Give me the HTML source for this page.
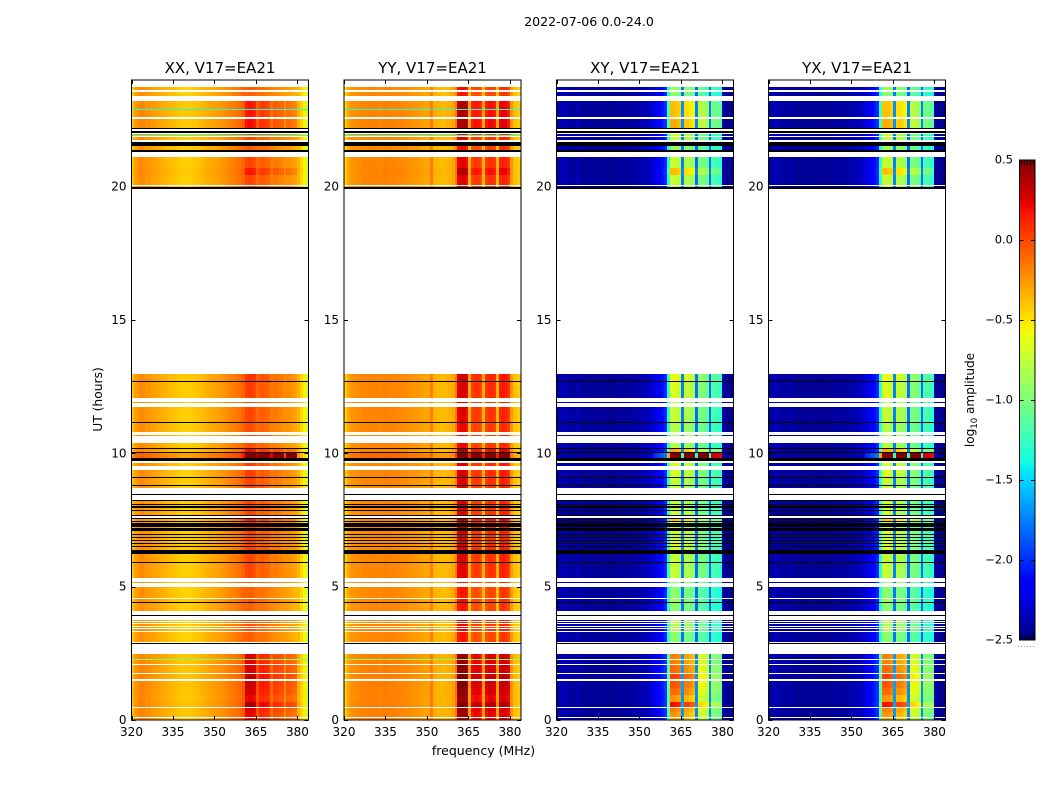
<!DOCTYPE html>
<html lang="en">
<head>
<meta charset="utf-8">
<title>2022-07-06 0.0-24.0</title>
<style>
html,body{margin:0;padding:0;background:#fff;}
svg{display:block;}
text{font-family:"DejaVu Sans","Liberation Sans",sans-serif;fill:#000;}
</style>
</head>
<body>
<svg id="chart" xmlns="http://www.w3.org/2000/svg" width="1050" height="800" viewBox="0 0 1050 800">
<rect x="0" y="0" width="1050" height="800" fill="#fff"/>
<text x="589" y="26" font-size="12.6" text-anchor="middle">2022-07-06 0.0-24.0</text>
<text x="0" y="0" font-size="12.3" text-anchor="middle" transform="translate(102,399.5) rotate(-90)">UT (hours)</text>
<text x="483.5" y="755" font-size="12.5" text-anchor="middle">frequency (MHz)</text>
<text x="0" y="0" font-size="12.1" text-anchor="middle" transform="translate(974,400) rotate(-90)">log<tspan font-size="8.5" dy="3">10</tspan><tspan dy="-3"> amplitude</tspan></text>
</svg>
<script>
const panelNames = ["XX, V17=EA21", "YY, V17=EA21", "XY, V17=EA21", "YX, V17=EA21"];
const xTickValues = [320, 335, 350, 365, 380];
const yTickValues = [0, 5, 10, 15, 20];
const colorTickValues = [-2.5, -2, -1.5, -1, -0.5, 0, 0.5];
const colorTickLabels = ["\u22122.5", "\u22122.0", "\u22121.5", "\u22121.0", "\u22120.5", "0.0", "0.5"];

const freqMHz = [320,321,322,323,324,325,326,327,328,329,330,331,332,333,334,335,336,337,338,339,340,341,342,343,344,345,346,347,348,349,350,351,352,353,354,355,356,357,358,359,360,361,362,363,364,365,366,367,368,369,370,371,372,373,374,375,376,377,378,379,380,381,382,383];

const xxBase = [-.4,-.28,-.24,-.2,-.22,-.25,-.25,-.27,-.28,-.3,-.31,-.33,-.34,-.36,-.37,-.38,-.4,-.41,-.43,-.43,-.43,-.42,-.41,-.4,-.38,-.37,-.35,-.33,-.31,-.3,-.29,-.28,-.26,-.24,-.22,-.2,-.18,-.16,-.14,-.12,-.08,0,.02,.02,-.02,-.1,-.07,-.06,-.08,-.1,-.17,-.15,-.16,-.18,-.2,-.24,-.22,-.24,-.27,-.3,-.34,-.45,-.55,-.7];
const yyBase = [-.42,-.3,-.25,-.24,-.22,-.22,-.2,-.2,-.2,-.19,-.19,-.19,-.2,-.2,-.18,-.18,-.19,-.19,-.2,-.2,-.21,-.21,-.22,-.23,-.24,-.25,-.25,-.27,-.28,-.29,-.3,-.17,-.33,-.35,-.35,-.37,-.36,-.35,-.33,-.3,-.18,.22,.25,.25,.2,-.35,.02,.06,.04,0,-.35,.04,.08,.08,.05,-.35,.12,.14,.12,.06,-.25,-.38,-.4,-.43];
const xyBase = [-2.42,-2.37,-2.35,-2.37,-2.39,-2.42,-2.42,-2.37,-2.4,-2.42,-2.45,-2.42,-2.43,-2.45,-2.42,-2.43,-2.45,-2.42,-2.43,-2.45,-2.45,-2.43,-2.42,-2.43,-2.41,-2.43,-2.42,-2.4,-2.41,-2.39,-2.37,-2.37,-2.35,-2.32,-2.29,-2.26,-2.2,-2.14,-2.08,-2.02,-1.3,-.72,-.72,-.75,-.78,-1.75,-.8,-.8,-.85,-.9,-1.8,-1,-1,-1.05,-1.1,-1.8,-1.2,-1.2,-1.25,-1.3,-2.4,-2.45,-2.45,-2.45];
const yxBase = [-2.43,-2.39,-2.37,-2.37,-2.4,-2.43,-2.42,-2.39,-2.41,-2.43,-2.45,-2.43,-2.44,-2.45,-2.43,-2.43,-2.45,-2.43,-2.44,-2.45,-2.45,-2.44,-2.43,-2.42,-2.41,-2.42,-2.42,-2.41,-2.4,-2.39,-2.37,-2.37,-2.35,-2.33,-2.29,-2.26,-2.21,-2.14,-2.09,-2.02,-1.3,-.74,-.72,-.74,-.78,-1.75,-.82,-.8,-.84,-.9,-1.8,-1,-.98,-1.05,-1.1,-1.8,-1.2,-1.18,-1.25,-1.3,-2.4,-2.45,-2.45,-2.45];

const xxResponse = [.03,.03,.03,.03,.03,.03,.03,.03,.03,.03,.03,.03,.03,.03,.03,.03,.03,.03,.03,.03,.03,.03,.03,.03,.03,.03,.03,.03,.03,.03,.03,.03,.03,.03,.03,.03,.03,.03,.03,.03,.05,.3,.3,.3,.3,.1,.22,.22,.22,.22,.08,.2,.2,.2,.2,.05,.2,.2,.2,.2,.02,.02,.02,.02];
const yyResponse = [.02,.02,.02,.02,.02,.02,.02,.02,.02,.02,.02,.02,.02,.02,.02,.02,.02,.02,.02,.02,.02,.02,.02,.02,.02,.02,.02,.02,.02,.02,.02,.02,.02,.02,.02,.02,.02,.02,.02,.02,.05,.25,.25,.25,.25,.1,.22,.22,.22,.22,.1,.22,.22,.22,.22,.1,.2,.2,.2,.2,.02,.02,.02,.02];
const crossResponse = [0,0,0,0,0,0,0,0,0,0,0,0,0,0,0,0,0,0,0,0,0,0,0,0,0,0,0,0,0,0,0,0,0,0,0,.05,.05,.05,.05,.05,.2,.7,.7,.7,.7,.1,.65,.65,.65,.65,.1,.42,.42,.42,.42,.1,.3,.3,.3,.3,0,0,0,0];

const dataStart = [0,.101,.3,.488,.686,.938,1.2,1.538,1.763,2.089,2.288,2.9125,3.35,3.4625,3.5375,3.625,3.7125,4.0875,4.425,4.575,5.15,5.325,5.925,6.3625,6.5125,6.65,6.75,6.875,6.9875,7.1875,7.375,7.45,7.7,7.875,8.0125,8.1,8.7,8.8,9.1,9.525,9.8375,10.0375,10.1875,10.65,10.8,11.175,11.8875,12.0875,12.7,19.9875,20.0625,20.4375,20.7,21.375,21.625,21.75,21.9,22.1875,22.6125,23.4,23.625];
const dataEnd = [.064,.3,.461,.686,.938,1.2,1.463,1.725,2.051,2.261,2.475,3.3125,3.425,3.5,3.5875,3.675,3.75,4.3875,4.5375,4.9875,5.175,5.9,6.225,6.475,6.6125,6.7125,6.8375,6.95,7.0875,7.225,7.425,7.5625,7.825,7.9625,8.05,8.225,8.775,9.075,9.375,9.65,10,10.1625,10.3875,10.7,11.15,11.7375,11.9375,12.675,12.975,20.025,20.4375,20.7,21.125,21.525,21.65,21.85,21.975,22.5375,23.2125,23.5625,23.75];
const dataGain = [.6,.7,.8,1.3,.7,.9,1,1.1,.9,.8,.8,-.3,-.1,-.1,-.1,-.1,0,-.3,-.2,-.3,-.2,0,0,.1,.1,.1,0,0,.1,.1,.2,.5,0,0,0,0,0,0,.1,.1,5,.6,-.1,0,-.1,0,0,.1,.2,0,0,.5,0,-.2,0,0,0,.6,.5,-.3,-.2];

const flaggedStart = [2.861,3.9125,4.3875,5.9,6.225,6.475,6.6125,6.7125,6.8375,6.95,7.0875,7.225,7.425,7.5625,7.6625,7.825,7.9625,8.05,8.225,8.45,8.775,9.075,9.7125,10,10.1625,11.15,12.675,19.925,21.2875,21.525,21.65,22.025,22.15];
const flaggedEnd = [2.899,3.9375,4.425,5.925,6.3625,6.5125,6.65,6.75,6.875,6.9875,7.1875,7.375,7.45,7.5875,7.7,7.875,8.0125,8.1,8.25,8.475,8.8,9.1,9.8375,10.0375,10.1875,11.175,12.7,19.9875,21.375,21.625,21.6875,22.0875,22.1875];

const dipStart = [2.261,21.925,22.875];
const dipEnd = [2.288,21.95,22.9];
const dipValue = [-1,-1.25,-1.35];

const panelBases = [xxBase, yyBase, xyBase, yxBase];
const panelResponses = [xxResponse, yyResponse, crossResponse, crossResponse];

const NS = "http://www.w3.org/2000/svg";
const svg = document.getElementById("chart");
const panelLeft = [131.5, 344, 556.5, 768.5];
const panelWidth = 177, plotTop = 80, plotBottom = 720;
const vMin = -2.5, vMax = 0.5;
const freqMin = 320, freqMax = 384, utMin = 0, utMax = 24;

function xScale(left, f) { return left + (f - freqMin) / (freqMax - freqMin) * panelWidth; }
function yScale(ut) { return plotBottom - (ut - utMin) / (utMax - utMin) * (plotBottom - plotTop); }
function cbarScale(v) { return 640 - (v - vMin) / (vMax - vMin) * 480; }

function jet(v) {
  const t = Math.max(0, Math.min(1, (v - vMin) / (vMax - vMin)));
  const seg = (pts) => {
    for (let i = 1; i < pts.length; i++) {
      if (t <= pts[i][0]) {
        const a = pts[i - 1], b = pts[i];
        return a[1] + (b[1] - a[1]) * (t - a[0]) / (b[0] - a[0]);
      }
    }
    return pts[pts.length - 1][1];
  };
  const r = seg([[0, 0], [.35, 0], [.66, 1], [.89, 1], [1, .5]]);
  const g = seg([[0, 0], [.125, 0], [.375, 1], [.64, 1], [.91, 0], [1, 0]]);
  const b = seg([[0, .5], [.11, 1], [.34, 1], [.65, 0], [1, 0]]);
  return "rgb(" + Math.round(r * 255) + "," + Math.round(g * 255) + "," + Math.round(b * 255) + ")";
}

function mk(tag, attrs, parent) {
  const el = document.createElementNS(NS, tag);
  for (const k in attrs) el.setAttribute(k, attrs[k]);
  parent.appendChild(el);
  return el;
}

function rowRect(x0, x1, s, e, fill, parent) {
  const top = Math.round(yScale(e));
  const h = Math.max(1, Math.round(yScale(s)) - top);
  const left = Math.round(x0);
  const w = Math.max(1, Math.round(x1) - left);
  return mk("rect", { x: left, y: top, width: w, height: h, fill: fill, "shape-rendering": "crispEdges" }, parent);
}

panelNames.forEach((name, p) => {
  const left = panelLeft[p], base = panelBases[p], resp = panelResponses[p];
  const group = mk("g", {}, svg);
  
  

  dataGain.forEach((gain, r) => {
    freqMHz.forEach((f, c) => {
      const v = base[c] + gain * resp[c];
      const cell = rowRect(xScale(left, f), xScale(left, f + 1), dataStart[r], dataEnd[r], jet(v), group);
      
      
    });
  });

  if (p < 2) {
    dipValue.forEach((v, d) => {
      const dip = rowRect(left, left + panelWidth, dipStart[d], dipEnd[d], jet(v), group);
      
      
    });
  }

  flaggedStart.forEach((s, i) => {
    const flag = rowRect(left, left + panelWidth, s, flaggedEnd[i], "#000", group);
    
    
  });

  const frame = mk("rect", { x: left, y: plotTop, width: panelWidth, height: plotBottom - plotTop, fill: "none", stroke: "#000", "stroke-width": 1 }, group);
  
  

  const title = mk("text", { x: left + panelWidth / 2, y: 73, "font-size": 15, "text-anchor": "middle" }, group);
  title.textContent = name;
  
  

  xTickValues.forEach((f) => {
    const x = Math.round(xScale(left, f)) + .5;
    const t1 = mk("line", { x1: x, x2: x, y1: plotBottom, y2: plotBottom - 4, stroke: "#000", "stroke-width": 1 }, group);
    
    
    const t2 = mk("line", { x1: x, x2: x, y1: plotTop, y2: plotTop + 4, stroke: "#000", "stroke-width": 1 }, group);
    
    
    const lab = mk("text", { x: xScale(left, f), y: 736, "font-size": 12, "text-anchor": "middle" }, group);
    lab.textContent = String(f);
    
    
  });

  yTickValues.forEach((u) => {
    const y = Math.round(yScale(u)) + .5;
    const t1 = mk("line", { x1: left, x2: left + 4, y1: y, y2: y, stroke: "#000", "stroke-width": 1 }, group);
    
    
    const t2 = mk("line", { x1: left + panelWidth, x2: left + panelWidth - 4, y1: y, y2: y, stroke: "#000", "stroke-width": 1 }, group);
    
    
    const lab = mk("text", { x: left - 5, y: yScale(u) + 4, "font-size": 12, "text-anchor": "end" }, group);
    lab.textContent = String(u);
    
    
  });
});

const cbar = mk("g", {}, svg);


const cbarLeft = 1019.5, cbarWidth = 15.5;
const cbarLevels = 256;
for (let i = 0; i < cbarLevels; i++) {
  const v0 = vMin + (vMax - vMin) * i / cbarLevels;
  const v1 = vMin + (vMax - vMin) * (i + 1) / cbarLevels;
  const band = mk("rect", { x: cbarLeft, y: cbarScale(v1), width: cbarWidth, height: cbarScale(v0) - cbarScale(v1) + .5, fill: jet((v0 + v1) / 2), "shape-rendering": "crispEdges" }, cbar);
  
  
}
const cbarFrame = mk("rect", { x: cbarLeft, y: 160, width: cbarWidth, height: 480, fill: "none", stroke: "#000", "stroke-width": 1 }, cbar);



colorTickValues.forEach((v, i) => {
  const y = cbarScale(v);
  const lab = mk("text", { x: 1013, y: y + 3.5, "font-size": 11.5, "text-anchor": "end" }, cbar);
  lab.textContent = colorTickLabels[i];
  
  
  if (i > 0 && i < colorTickValues.length - 1) {
    const a = mk("line", { x1: cbarLeft, x2: cbarLeft + 4, y1: y + .5, y2: y + .5, stroke: "#000", "stroke-width": 1 }, cbar);
    
    
    const b = mk("line", { x1: cbarLeft + cbarWidth, x2: cbarLeft + cbarWidth - 4, y1: y + .5, y2: y + .5, stroke: "#000", "stroke-width": 1 }, cbar);
    
    
  }
});

[1021.5, 1024.5, 1027.5, 1030.5, 1033.5].forEach((x) => {
  const top = mk("line", { x1: x, x2: x, y1: 160, y2: 165, stroke: "#000", "stroke-width": 1 }, cbar);
  
  
  const bottom = mk("line", { x1: x, x2: x, y1: 635, y2: 640, stroke: "#000", "stroke-width": 1 }, cbar);
  
  
});

const dots = mk("line", { x1: 1018, x2: 1035, y1: 646.5, y2: 646.5, stroke: "#999", "stroke-width": 1, "stroke-dasharray": "1 2" }, cbar);


</script>
</body>
</html>
